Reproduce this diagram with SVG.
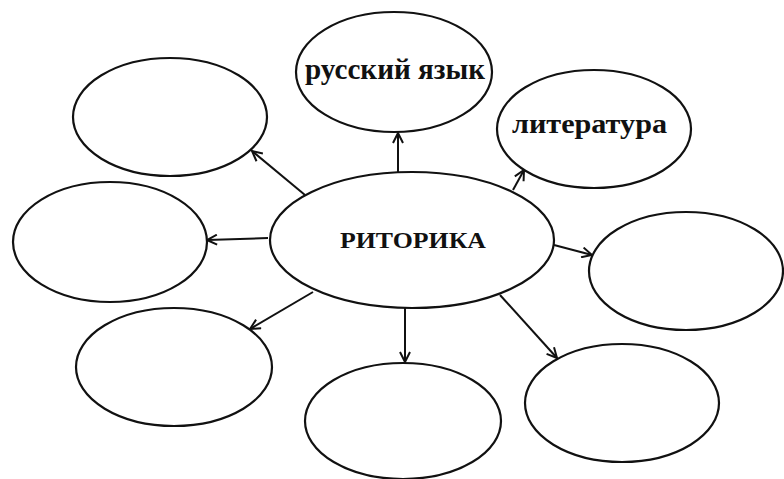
<svg xmlns="http://www.w3.org/2000/svg" width="784" height="479" viewBox="0 0 784 479">
<defs>
<style>
.n{fill:#fff;stroke:#111;stroke-width:2.2}
.c line{stroke:#111;stroke-width:2;marker-end:url(#ah)}
.t{font-family:"Liberation Serif","Times New Roman",serif;font-weight:bold;fill:#111}
</style>
<marker id="ah" viewBox="0 0 12 12" refX="11" refY="6" markerWidth="12" markerHeight="12" markerUnits="userSpaceOnUse" orient="auto">
<path d="M1,1 L11,6 L1,11" fill="none" stroke="#111" stroke-width="2"/>
</marker>
</defs>
<rect width="784" height="479" fill="#fff"/>
<g id="connectors" class="c">
<line x1="305" y1="195" x2="252" y2="151"/>
<line x1="398" y1="172" x2="398" y2="133"/>
<line x1="513" y1="190" x2="524" y2="170"/>
<line x1="268" y1="238" x2="207" y2="240"/>
<line x1="554" y1="245" x2="592" y2="255"/>
<line x1="313" y1="292" x2="250" y2="329"/>
<line x1="405" y1="308" x2="405" y2="362"/>
<line x1="500" y1="295" x2="557" y2="358"/>
</g>
<g id="center"><ellipse class="n" cx="412" cy="240" rx="142" ry="68"/><text class="t" x="340" y="248" font-size="23" textLength="146" lengthAdjust="spacingAndGlyphs">РИТОРИКА</text></g>
<g id="russian"><ellipse class="n" cx="394" cy="72" rx="98" ry="60"/><text class="t" x="305" y="79" font-size="30" textLength="180" lengthAdjust="spacingAndGlyphs">русский язык</text></g>
<g id="literature"><ellipse class="n" cx="594" cy="129" rx="97" ry="59"/><text class="t" x="512" y="133" font-size="28" textLength="155" lengthAdjust="spacingAndGlyphs">литература</text></g>
<g id="topleft"><ellipse class="n" cx="170" cy="117" rx="97" ry="59"/></g>
<g id="left"><ellipse class="n" cx="110" cy="242" rx="97" ry="60"/></g>
<g id="bottomleft"><ellipse class="n" cx="174" cy="367" rx="98" ry="59"/></g>
<g id="bottom"><ellipse class="n" cx="403" cy="421" rx="98" ry="58"/></g>
<g id="bottomright"><ellipse class="n" cx="622" cy="403" rx="97" ry="59"/></g>
<g id="right"><ellipse class="n" cx="686" cy="271" rx="97" ry="59"/></g>
</svg>
